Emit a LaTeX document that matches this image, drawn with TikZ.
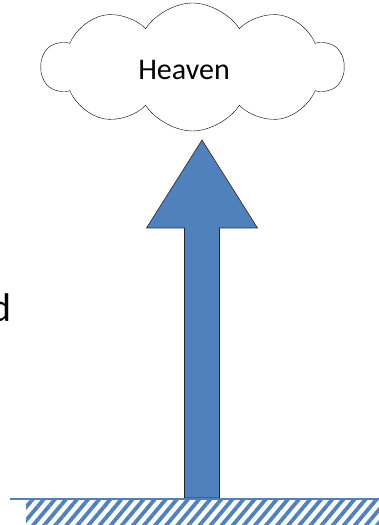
\documentclass[tikz,border=0pt]{standalone}
\usepackage{fontspec}
\setmainfont{Carlito}
\usetikzlibrary{shapes.symbols,patterns.meta}
\definecolor{arrowblue}{HTML}{4F81BD}
\begin{document}
\begin{tikzpicture}[x=1pt,y=1pt,
heaven/.style={cloud, cloud puffs=10, cloud puff arc=115, cloud ignores aspect, draw=black, thin,
  fill=white, minimum width=302pt, minimum height=128pt, inner sep=0pt,
  font=\fontsize{30}{34}\selectfont},
blockarrow/.style={fill=arrowblue, draw=black!85, line width=0.6pt, line join=miter}
]
\useasboundingbox (0,0) rectangle (379,525);
\clip (0,0) rectangle (379,525);
\def\tipx{202}
\def\headw{55.5}
\def\shaftw{17.5}
% cloud at the top
\node[heaven, shape border rotate=8] (heaven) at (192.5,458) {};
\node[font=\fontsize{30}{34}\selectfont, inner sep=0pt] (label) at (184,455) {Heaven};
% clipped word at the left edge
\node[anchor=base east, inner sep=0pt, font=\fontsize{40}{44}\selectfont] (word) at (11.5,203) {d};
% ground
\coordinate (gl) at (10,26);
\coordinate (gr) at (379,26);
\fill[pattern={Lines[angle=50, distance=8.5pt, line width=3.8pt]}, pattern color=arrowblue]
  (26,0) rectangle (379,24.5);
% block arrow from ground up
\coordinate (tip) at (\tipx,385);
\coordinate (foot) at (\tipx,27);
\draw[blockarrow] (foot) ++(-\shaftw,0) -- ++(0,270) -- (\tipx-\headw,297) -- (tip)
  -- (\tipx+\headw,297) -- (\tipx+\shaftw,297) -- (\tipx+\shaftw,27) -- cycle;
\draw[arrowblue, line width=2.6pt] (gl) -- (gr);
\end{tikzpicture}
\end{document}
